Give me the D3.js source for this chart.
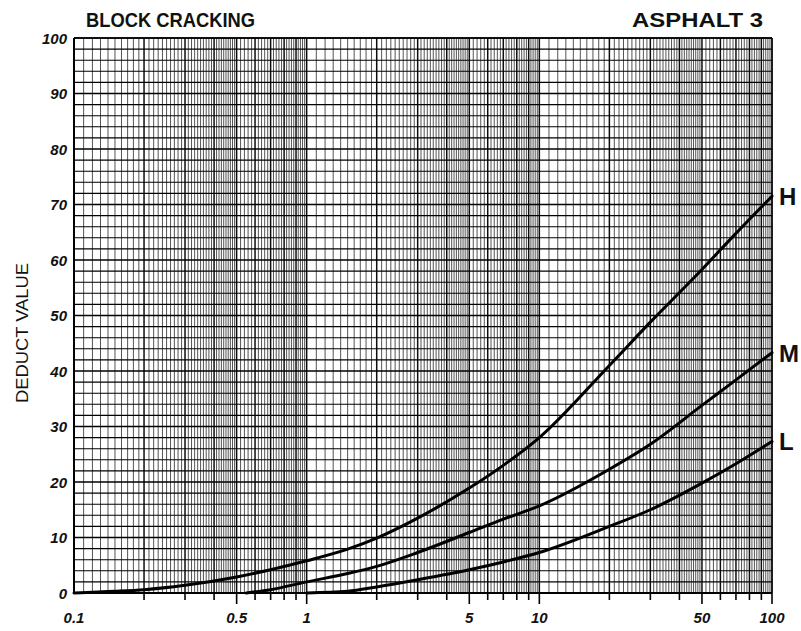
<!DOCTYPE html>
<html lang="en">
<head>
<meta charset="UTF-8">
<title>Block Cracking - Asphalt 3</title>
<script src="https://d3js.org/d3.v7.min.js"></script>
<style>
  body { margin: 0; background: #fff; font-family: "Liberation Sans", Arial, sans-serif; }
  .tick-label { font-size: 15px; font-weight: bold; font-style: italic; fill: #111; }
  .title { font-size: 20px; font-weight: bold; fill: #111; }
  .curve-label { font-size: 24px; font-weight: bold; fill: #111; }
</style>
</head>
<body>
<svg width="801" height="631"></svg>
<script>
// deduct value curves (density %, deduct value)
const curveNames = ["H", "M", "L"];
const hDensity = [0.1, 0.15, 0.2, 0.3, 0.5, 0.7, 1, 1.5, 2, 3, 5, 7, 10, 20, 30, 50, 70, 100];
const hDeduct  = [0, 0.3, 0.6, 1.4, 2.9, 4.2, 5.8, 7.9, 9.9, 13.5, 18.9, 23, 28, 41, 48.8, 58.3, 64.8, 71.5];
const mDensity = [0.55, 0.7, 1, 1.5, 2, 3, 5, 7, 10, 20, 30, 50, 70, 100];
const mDeduct  = [0, 0.6, 2.0, 3.5, 4.8, 7.3, 10.9, 13.3, 15.7, 22.3, 26.8, 33.8, 38.4, 43.3];
const lDensity = [1, 1.5, 2, 3, 5, 7, 10, 20, 30, 50, 70, 100];
const lDeduct  = [0, 0.3, 1.1, 2.4, 4.2, 5.6, 7.3, 12, 15, 19.8, 23.3, 27.3];

const xLabels = [0.1, 0.5, 1, 5, 10, 50, 100];
const yLabels = [0, 10, 20, 30, 40, 50, 60, 70, 80, 90, 100];

const plotLeft = 74, plotRight = 772, plotTop = 38, plotBottom = 593;
const svg = d3.select("svg");

const x = d3.scaleLog().domain([0.1, 100]).range([plotLeft, plotRight]);
const y = d3.scaleLinear().domain([0, 100]).range([plotBottom, plotTop]);

// log paper vertical rulings
let vLines = [];
[0.1, 1, 10].forEach(base => {
  for (let m = 10; m < 50; m += 1) vLines.push({v: base * m / 10, major: m % 10 === 0});
  for (let m = 50; m < 100; m += 2) vLines.push({v: base * m / 10, major: m % 10 === 0});
});
vLines.push({v: 100, major: true});

const grid = svg.append("g");
grid.selectAll("line.v")
  .data(vLines)
  .enter().append("line")
  .attr("class", "v")
  .attr("x1", d => x(d.v)).attr("x2", d => x(d.v))
  .attr("y1", plotTop).attr("y2", plotBottom)
  .attr("stroke", "#000")
  .attr("stroke-opacity", d => d.major ? 0.95 : 0.75)
  .attr("stroke-width", d => d.major ? 1.5 : 0.9);

grid.selectAll("line.h")
  .data(d3.range(0, 101, 2))
  .enter().append("line")
  .attr("class", "h")
  .attr("x1", plotLeft).attr("x2", plotRight)
  .attr("y1", d => y(d)).attr("y2", d => y(d))
  .attr("stroke", "#000")
  .attr("stroke-width", d => d % 10 === 0 ? 1.5 : 1.1);

// frame
svg.append("line").attr("x1", plotLeft).attr("x2", plotLeft).attr("y1", plotTop).attr("y2", plotBottom + 1)
  .attr("stroke", "#000").attr("stroke-width", 2);
svg.append("line").attr("x1", plotLeft).attr("x2", plotRight).attr("y1", plotBottom).attr("y2", plotBottom)
  .attr("stroke", "#000").attr("stroke-width", 2.2);
svg.append("line").attr("x1", plotRight).attr("x2", plotRight).attr("y1", plotTop).attr("y2", plotBottom)
  .attr("stroke", "#000").attr("stroke-width", 1.2);
svg.append("line").attr("x1", plotLeft).attr("x2", plotRight).attr("y1", plotTop).attr("y2", plotTop)
  .attr("stroke", "#000").attr("stroke-width", 1.4);

// x axis ticks below the frame
let xTicks = [];
[0.1, 1, 10].forEach(base => {
  for (let m = 2; m <= 10; m++) xTicks.push({v: base * m, long: m === 5 || m === 10});
});
svg.append("g").selectAll("line")
  .data(xTicks)
  .enter().append("line")
  .attr("x1", d => x(d.v)).attr("x2", d => x(d.v))
  .attr("y1", plotBottom).attr("y2", d => plotBottom + (d.long ? 11 : 7))
  .attr("stroke", "#000").attr("stroke-width", 1.6);

svg.append("g").selectAll("text")
  .data(xLabels)
  .enter().append("text")
  .attr("class", "tick-label")
  .attr("x", d => x(d)).attr("y", 623)
  .attr("text-anchor", "middle")
  .text(d => d);

svg.append("g").selectAll("text")
  .data(yLabels)
  .enter().append("text")
  .attr("class", "tick-label")
  .attr("x", 67).attr("y", d => y(d) + 5.5)
  .attr("text-anchor", "end")
  .text(d => d);

// titles
svg.append("text").attr("class", "title")
  .attr("x", 86).attr("y", 27)
  .attr("textLength", 169).attr("lengthAdjust", "spacingAndGlyphs")
  .text("BLOCK CRACKING");
svg.append("text").attr("class", "title")
  .attr("x", 632).attr("y", 27)
  .attr("textLength", 131).attr("lengthAdjust", "spacingAndGlyphs")
  .text("ASPHALT 3");

svg.append("text")
  .attr("transform", "translate(28,333) rotate(-90)")
  .attr("text-anchor", "middle")
  .attr("font-size", 17)
  .attr("textLength", 140).attr("lengthAdjust", "spacingAndGlyphs")
  .attr("fill", "#111")
  .text("DEDUCT VALUE");

// curves
const line = d3.line()
  .x(d => x(d[0]))
  .y(d => y(d[1]))
  .curve(d3.curveMonotoneX);

const curves = [
  d3.zip(hDensity, hDeduct),
  d3.zip(mDensity, mDeduct),
  d3.zip(lDensity, lDeduct)
];

svg.append("g").selectAll("path")
  .data(curves)
  .enter().append("path")
  .attr("d", line)
  .attr("fill", "none")
  .attr("stroke", "#000")
  .attr("stroke-width", 3)
  .attr("stroke-linecap", "round");

svg.append("g").selectAll("text")
  .data(curves)
  .enter().append("text")
  .attr("class", "curve-label")
  .attr("x", 779)
  .attr("y", d => y(d[d.length - 1][1]) + 9)
  .text((d, i) => curveNames[i]);
</script>
</body>
</html>
